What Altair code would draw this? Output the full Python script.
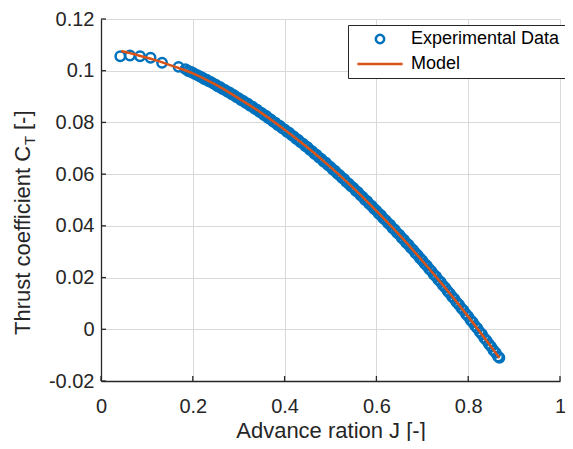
import altair as alt
import pandas as pd

# ---------------- data ----------------
J_exp = [0.042, 0.063, 0.085, 0.108, 0.133, 0.169, 0.184,
         0.190, 0.195, 0.200, 0.205, 0.210, 0.215, 0.220, 0.225, 0.230, 0.235,
         0.240, 0.245, 0.250, 0.255, 0.260, 0.265, 0.270, 0.275, 0.280, 0.285,
         0.290, 0.295, 0.300, 0.305, 0.310, 0.315, 0.320, 0.325, 0.330, 0.335,
         0.340, 0.345, 0.350, 0.355, 0.360, 0.365, 0.370, 0.375, 0.380, 0.385,
         0.390, 0.395, 0.400, 0.405, 0.410, 0.415, 0.420, 0.425, 0.430, 0.435,
         0.440, 0.445, 0.450, 0.455, 0.460, 0.465, 0.470, 0.475, 0.480, 0.485,
         0.490, 0.495, 0.500, 0.505, 0.510, 0.515, 0.520, 0.525, 0.530, 0.535,
         0.540, 0.545, 0.550, 0.555, 0.560, 0.565, 0.570, 0.575, 0.580, 0.585,
         0.590, 0.595, 0.600, 0.605, 0.610, 0.615, 0.620, 0.625, 0.630, 0.635,
         0.640, 0.645, 0.650, 0.655, 0.660, 0.665, 0.670, 0.675, 0.680, 0.685,
         0.690, 0.695, 0.700, 0.705, 0.710, 0.715, 0.720, 0.725, 0.730, 0.735,
         0.740, 0.745, 0.750, 0.755, 0.760, 0.765, 0.770, 0.775, 0.780, 0.785,
         0.790, 0.795, 0.800, 0.805, 0.810, 0.815, 0.820, 0.825, 0.830, 0.835,
         0.840, 0.845, 0.850, 0.855, 0.860, 0.865, 0.868]
CT_exp = [0.1056, 0.1059, 0.1056, 0.1050, 0.1031, 0.1015, 0.1006,
          0.0999, 0.0996, 0.0992, 0.0987, 0.0983, 0.0978, 0.0974, 0.0968, 0.0965, 0.0959,
          0.0956, 0.0950, 0.0946, 0.0939, 0.0936, 0.0929, 0.0926, 0.0919, 0.0916, 0.0909,
          0.0905, 0.0898, 0.0894, 0.0887, 0.0883, 0.0876, 0.0872, 0.0864, 0.0861, 0.0853,
          0.0849, 0.0841, 0.0837, 0.0829, 0.0825, 0.0816, 0.0812, 0.0803, 0.0799, 0.0790,
          0.0786, 0.0777, 0.0773, 0.0764, 0.0760, 0.0751, 0.0746, 0.0737, 0.0732, 0.0723,
          0.0718, 0.0709, 0.0704, 0.0694, 0.0689, 0.0679, 0.0674, 0.0664, 0.0659, 0.0649,
          0.0644, 0.0634, 0.0628, 0.0618, 0.0612, 0.0602, 0.0596, 0.0586, 0.0580, 0.0569,
          0.0563, 0.0553, 0.0547, 0.0536, 0.0530, 0.0519, 0.0512, 0.0501, 0.0495, 0.0484,
          0.0477, 0.0466, 0.0459, 0.0448, 0.0441, 0.0429, 0.0422, 0.0411, 0.0404, 0.0392,
          0.0385, 0.0373, 0.0366, 0.0354, 0.0346, 0.0334, 0.0327, 0.0315, 0.0307, 0.0295,
          0.0287, 0.0275, 0.0266, 0.0254, 0.0246, 0.0233, 0.0225, 0.0212, 0.0204, 0.0191,
          0.0183, 0.0170, 0.0161, 0.0148, 0.0139, 0.0126, 0.0117, 0.0104, 0.0095, 0.0082,
          0.0073, 0.0059, 0.0050, 0.0036, 0.0027, 0.0013, 0.0004, -0.0010, -0.0019, -0.0034,
          -0.0043, -0.0057, -0.0067, -0.0081, -0.0091, -0.0105, -0.0110]

J_model = [0.044, 0.08, 0.12, 0.16, 0.20, 0.25, 0.30, 0.35, 0.40, 0.45, 0.50,
           0.55, 0.60, 0.65, 0.70, 0.75, 0.80, 0.85, 0.868]
CT_model = [0.1076, 0.1060, 0.1040, 0.1016, 0.0990, 0.0946, 0.0893, 0.0836, 0.0772,
            0.0703, 0.0627, 0.0546, 0.0458, 0.0365, 0.0265, 0.0160, 0.0049, -0.0068, -0.0111]

series_names = ["Experimental Data", "Model"]
series_colors = ["#0072BD", "#D95319"]
series_shapes = ["circle", "M-5.4,0L5.4,0"]

x_ticks = [0, 0.2, 0.4, 0.6, 0.8, 1]
y_ticks = [-0.02, 0, 0.02, 0.04, 0.06, 0.08, 0.1, 0.12]

x_title = "Advance ration J [-]"
y_title_main = "Thrust coefficient C"
y_title_sub = "T"
y_title_end = "[-]"

# ---------------- styling ----------------
W, H = 459, 362
FONT = "Liberation Sans"
TXT = "#262626"
LABEL_EXPR = "replace(format(datum.value, '~g'), '\u2212', '-')"

exp_df = pd.DataFrame({"J": J_exp, "CT": CT_exp, "series": series_names[0]})
model_df = pd.DataFrame({"J": J_model, "CT": CT_model, "series": series_names[1]})

xscale = alt.Scale(domain=[0, 1], nice=False, zero=False)
yscale = alt.Scale(domain=[-0.02, 0.12], nice=False, zero=False)

x_axis = alt.Axis(values=x_ticks, title=x_title, labelExpr=LABEL_EXPR,
                  labelBaseline="alphabetic", labelPadding=31,
                  titleBaseline="alphabetic", titleY=56)
y_axis = alt.Axis(values=y_ticks, title=None, labelExpr=LABEL_EXPR, labelPadding=7)

legend = alt.Legend(orient="none", legendX=247, legendY=6, title=None,
                    strokeColor=TXT, fillColor="white", padding=5,
                    labelFont=FONT, labelFontSize=18, labelColor="black",
                    symbolSize=70, symbolStrokeWidth=2.5, symbolOffset=18,
                    labelOffset=22, rowPadding=6)

color = alt.Color("series:N", scale=alt.Scale(domain=series_names, range=series_colors),
                  legend=legend)
shape = alt.Shape("series:N", scale=alt.Scale(domain=series_names, range=series_shapes),
                  legend=legend)

points = alt.Chart(exp_df).mark_point(filled=False, size=88, strokeWidth=2.5, opacity=1).encode(
    x=alt.X("J:Q", scale=xscale, axis=x_axis),
    y=alt.Y("CT:Q", scale=yscale, axis=y_axis),
    color=color,
    shape=shape,
)

line = alt.Chart(model_df).mark_line(strokeWidth=2.5, interpolate="monotone").encode(
    x=alt.X("J:Q", scale=xscale, axis=x_axis),
    y=alt.Y("CT:Q", scale=yscale, axis=y_axis),
    color=color,
)

xtick_layer = alt.Chart(pd.DataFrame({"v": x_ticks})).mark_tick(
    orient="vertical", size=5, thickness=1.3, color=TXT, yOffset=-2.5, opacity=1
).encode(
    x=alt.X("v:Q", scale=xscale, axis=x_axis),
    y=alt.YDatum(-0.02, type="quantitative", scale=yscale, axis=y_axis),
)

ytick_layer = alt.Chart(pd.DataFrame({"v": y_ticks})).mark_tick(
    orient="horizontal", size=5, thickness=1.3, color=TXT, xOffset=2.5, opacity=1
).encode(
    y=alt.Y("v:Q", scale=yscale, axis=y_axis),
    x=alt.XDatum(0, type="quantitative", scale=xscale, axis=x_axis),
)

one = pd.DataFrame({"a": [0]})
t_main = alt.Chart(one).mark_text(
    text=y_title_main, angle=270, align="left", baseline="alphabetic",
    font=FONT, fontSize=22, color=TXT
).encode(x=alt.value(-71), y=alt.value(316))
t_sub = alt.Chart(one).mark_text(
    text=y_title_sub, angle=270, align="left", baseline="alphabetic",
    font=FONT, fontSize=15, color=TXT
).encode(x=alt.value(-66), y=alt.value(126))
t_end = alt.Chart(one).mark_text(
    text=y_title_end, angle=270, align="left", baseline="alphabetic",
    font=FONT, fontSize=22, color=TXT
).encode(x=alt.value(-71), y=alt.value(111))

chart = alt.layer(xtick_layer, ytick_layer, points, line, t_main, t_sub, t_end).properties(
    width=W, height=H,
    padding={"left": 93, "top": 11, "right": 5, "bottom": 60},
    autosize=alt.AutoSizeParams(type="none"),
    background="white",
).configure_view(stroke=None).configure_axis(
    labelFont=FONT, labelFontSize=20, labelColor=TXT,
    titleFont=FONT, titleFontSize=22, titleColor=TXT, titleFontWeight="normal",
    domainColor=TXT, domainWidth=1.3, ticks=False, tickSize=0,
    grid=True, gridColor="#d9d9d9", gridWidth=1,
    labelFlush=False, labelOverlap=False,
)

chart.save("out.html", embed_options={"renderer": "svg", "actions": False})
